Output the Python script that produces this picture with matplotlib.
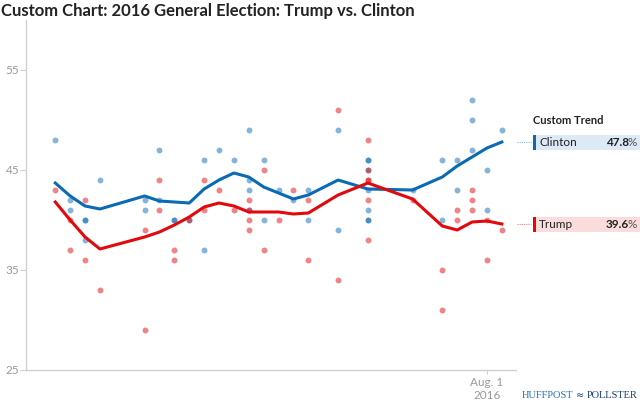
import matplotlib
matplotlib.use("Agg")
import matplotlib.pyplot as plt
import matplotlib.dates as mdates
import matplotlib.transforms as mtrans
from matplotlib.patches import Rectangle
import numpy as np

plt.rcParams['font.family'] = ['Lato', 'DejaVu Sans']

# ---------------- data ----------------
clinton_poll_dates = (
    ["2016-05-06"] + ["2016-05-09"] * 2 + ["2016-05-12"] * 3 + ["2016-05-15"] +
    ["2016-05-24"] * 2 + ["2016-05-27"] * 2 + ["2016-05-30"] * 2 + ["2016-06-02"] +
    ["2016-06-05"] * 2 + ["2016-06-08"] + ["2016-06-11"] + ["2016-06-14"] * 4 +
    ["2016-06-17"] * 2 + ["2016-06-20"] + ["2016-06-23"] + ["2016-06-26"] * 2 +
    ["2016-07-02"] * 2 + ["2016-07-08"] * 7 + ["2016-07-17"] + ["2016-07-23"] * 2 +
    ["2016-07-26"] * 2 + ["2016-07-29"] * 3 + ["2016-08-01"] * 2 + ["2016-08-04"]
)
clinton_poll_values = [
    48, 42, 41, 40, 40, 38, 44,
    42, 41, 47, 42, 40, 40, 40,
    46, 37, 47, 46, 49, 44, 43, 41,
    46, 40, 43, 42, 43, 40,
    49, 39, 46, 46, 45, 43, 41, 40, 40, 43, 46, 40,
    46, 43, 52, 50, 47, 45, 41, 49,
]

trump_poll_dates = (
    ["2016-05-06"] + ["2016-05-09"] * 2 + ["2016-05-12"] * 2 + ["2016-05-15"] +
    ["2016-05-24"] * 2 + ["2016-05-27"] * 2 + ["2016-05-30"] * 2 + ["2016-06-02"] +
    ["2016-06-05"] * 2 + ["2016-06-08"] + ["2016-06-11"] + ["2016-06-14"] * 4 +
    ["2016-06-17"] * 2 + ["2016-06-20"] + ["2016-06-23"] + ["2016-06-26"] * 2 +
    ["2016-07-02"] * 2 + ["2016-07-08"] * 6 + ["2016-07-17"] + ["2016-07-23"] * 2 +
    ["2016-07-26"] * 2 + ["2016-07-29"] * 3 + ["2016-08-01"] * 2 + ["2016-08-04"]
)
trump_poll_values = [
    43, 40, 37, 42, 36, 33,
    39, 29, 44, 41, 37, 36, 40,
    44, 41, 43, 41, 42, 41, 40, 39,
    45, 37, 40, 43, 42, 36,
    51, 34, 48, 45, 44, 44, 42, 38, 42, 35, 31,
    41, 40, 43, 42, 41, 40, 36, 39,
]

trend_dates = ["2016-05-06", "2016-05-09", "2016-05-12", "2016-05-15", "2016-05-24",
               "2016-05-27", "2016-05-30", "2016-06-02", "2016-06-05", "2016-06-08",
               "2016-06-11", "2016-06-14", "2016-06-17", "2016-06-20", "2016-06-23",
               "2016-06-26", "2016-07-02", "2016-07-08", "2016-07-17", "2016-07-23",
               "2016-07-26", "2016-07-29", "2016-08-01", "2016-08-04"]
clinton_trend = [43.7, 42.4, 41.4, 41.1, 42.4, 41.9, 41.8, 41.7, 43.1, 44.0, 44.7, 44.3,
                 43.3, 42.7, 42.1, 42.5, 44.0, 43.1, 43.0, 44.3, 45.4, 46.3, 47.2, 47.8]
trump_trend = [41.8, 40.0, 38.3, 37.1, 38.3, 38.8, 39.5, 40.3, 41.3, 41.7, 41.4, 40.8,
               40.8, 40.8, 40.6, 40.7, 42.5, 43.7, 42.1, 39.4, 39.0, 39.8, 39.9, 39.6]

candidates = ["Clinton", "Trump"]
y_ticks = [25, 35, 45, 55]
x_tick_dates = ["2016-08-01"]
x_tick_labels = ["Aug. 1\n2016"]
title = "Custom Chart: 2016 General Election: Trump vs. Clinton"

# ---------------- styling ----------------
BLUE = "#0a6ab4"
RED = "#e3080b"
BLUE_BG = "#dde9f4"
RED_BG = "#fbdcdd"
GRAY = "#999999"
W, H = 640, 404

def d(lst):
    return mdates.date2num(np.array(lst, dtype="datetime64[D]"))

fig = plt.figure(figsize=(W / 100, H / 100), dpi=100)
ax = fig.add_axes([26 / W, 34 / H, (516 - 26) / W, (370 - 20) / H])

ax.scatter(d(clinton_poll_dates), clinton_poll_values, s=18, color=BLUE, alpha=0.5,
           linewidths=0, zorder=2)
ax.scatter(d(trump_poll_dates), trump_poll_values, s=18, color=RED, alpha=0.5,
           linewidths=0, zorder=2)
ax.plot(d(trend_dates), clinton_trend, color=BLUE, lw=2.2, zorder=3,
        solid_joinstyle="round")
ax.plot(d(trend_dates), trump_trend, color=RED, lw=2.2, zorder=3,
        solid_joinstyle="round")

ax.set_ylim(25, 60)
ax.set_xlim(d(["2016-04-30"])[0] + 0.1, d(["2016-08-07"])[0] - 0.15)
ax.set_yticks(y_ticks)
ax.set_yticklabels([str(v) for v in y_ticks])
ax.set_xticks(d(x_tick_dates))
ax.set_xticklabels(x_tick_labels, linespacing=1.25)

for s in ["top", "right"]:
    ax.spines[s].set_visible(False)
for s in ["left", "bottom"]:
    ax.spines[s].set_color("#d0d0d0")
    ax.spines[s].set_linewidth(1.0)
ax.tick_params(axis="y", length=4, width=0.8, color="#d0d0d0", labelcolor=GRAY,
               labelsize=8.5, pad=1)
ax.tick_params(axis="x", length=3, width=0.8, color="#d0d0d0", labelcolor=GRAY,
               labelsize=8.5, pad=2)

# title
fig.text(1 / W, 1 - 3 / H, title, ha="left", va="top", fontsize=12,
         fontweight="bold", color="#222222")

# right-side trend labels
blend = mtrans.blended_transform_factory(fig.transFigure, ax.transData)
fig.text(533 / W, 1 - 120 / H, "Custom Trend", ha="left", va="center",
         fontsize=8, fontweight="bold", color="#222222")
last_vals = [clinton_trend[-1], trump_trend[-1]]
for name, val, col, bg in zip(candidates, last_vals, [BLUE, RED], [BLUE_BG, RED_BG]):
    ax.add_patch(Rectangle((533 / W, val - 0.75), (640 - 533) / W, 1.5,
                           transform=blend, facecolor=bg, edgecolor="none",
                           clip_on=False, zorder=1))
    ax.add_patch(Rectangle((533 / W, val - 0.75), 3 / W, 1.5,
                           transform=blend, facecolor=col, edgecolor="none",
                           clip_on=False, zorder=2))
    ax.plot([517 / W, 531 / W], [val, val], transform=blend, color=col, alpha=0.5,
            lw=0.8, ls=(0, (1, 1)), clip_on=False)
    ax.text(539 / W, val, name, transform=blend, ha="left", va="center",
            fontsize=8.5, color="#222222")
    ax.text(637 / W, val, "%", transform=blend, ha="right", va="center",
            fontsize=8.5, color="#555555")
    ax.text(629 / W, val, f"{val:.1f}", transform=blend, ha="right", va="center",
            fontsize=8.5, fontweight="bold", color="#222222")

# logo text
fig.text(522 / W, 1 - 396 / H, "HUFFPOST", ha="left", va="center",
         fontsize=7.5, family="Liberation Serif", color="#2a6fb0")
fig.text(638 / W, 1 - 396 / H, "POLLSTER", ha="right", va="center",
         fontsize=7.5, family="Liberation Serif", color="#1b3e73")
fig.text(580 / W, 1 - 395 / H, "≈", ha="center", va="center",
         fontsize=7, family="DejaVu Sans", color="#1b3e73")

fig.savefig("out.png", dpi=100)
